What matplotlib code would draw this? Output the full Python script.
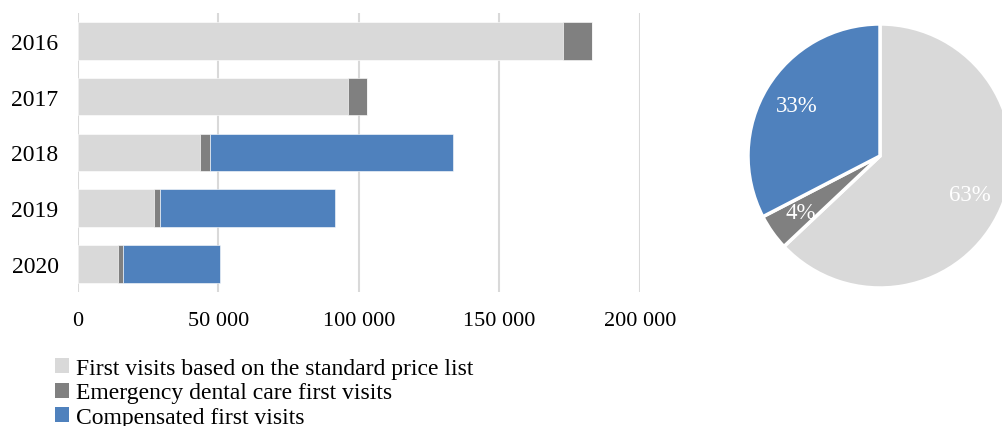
import matplotlib
matplotlib.use("Agg")
import matplotlib.pyplot as plt
from matplotlib.patches import Patch
from matplotlib.ticker import FuncFormatter

plt.rcParams['font.family'] = ['Liberation Serif', 'DejaVu Serif']

years = ["2016", "2017", "2018", "2019", "2020"]
standard = [172750, 96000, 43600, 27050, 14200]
emergency = [10350, 7000, 3500, 2250, 1700]
compensated = [0, 0, 86200, 62100, 34800]

series_names = [
    "First visits based on the standard price list",
    "Emergency dental care first visits",
    "Compensated first visits",
]
colors = ["#d9d9d9", "#808080", "#4f81bd"]

fig = plt.figure(figsize=(10.02, 4.27), dpi=100)

# Stacked horizontal bars per year
ax = fig.add_axes([0.0778, 0.3145, 0.5609, 0.6527])
pos = list(range(len(years)))
left = [0] * len(years)
for vals, col in zip([standard, emergency, compensated], colors):
    ax.barh(pos, vals, left=left, height=0.67, color=col, edgecolor="white",
            linewidth=0.4, zorder=3)
    left = [a + b for a, b in zip(left, vals)]

ax.set_xlim(0, 200000)
ax.set_ylim(len(years) - 0.5, -0.5)
ax.set_yticks(pos)
ax.set_yticklabels(years, fontsize=17)
ax.set_xticks([0, 50000, 100000, 150000, 200000])
ax.xaxis.set_major_formatter(FuncFormatter(lambda v, p: f"{int(v):,}".replace(",", " ")))
ax.tick_params(axis="x", labelsize=16, length=0, pad=14)
ax.tick_params(axis="y", length=0, pad=14)
ax.grid(axis="x", color="#d9d9d9", linewidth=1.5, zorder=0)
for s in ax.spines.values():
    s.set_visible(False)

# Share of each visit type over the whole period
totals = [sum(standard), sum(emergency), sum(compensated)]
pax = fig.add_axes([0.7465, 0.3232, 0.2635, 0.6183])
wedges, texts, autotexts = pax.pie(
    totals, colors=colors, startangle=90, counterclock=False,
    autopct="%.0f%%", pctdistance=0.74,
    wedgeprops=dict(edgecolor="white", linewidth=2.5),
    textprops=dict(color="white", fontsize=16.5),
)
pax.set_xlim(-1, 1)
pax.set_ylim(-1, 1)
pax.set_aspect("equal")

handles = [Patch(facecolor=c, edgecolor="none") for c in colors]
fig.legend(handles, series_names, loc="upper left", bbox_to_anchor=(0.055, 0.16),
           frameon=False, fontsize=17, handlelength=0.6, handleheight=0.6,
           handletextpad=0.3, labelspacing=0.16, borderpad=0, borderaxespad=0)

fig.savefig("out.png", dpi=100)
